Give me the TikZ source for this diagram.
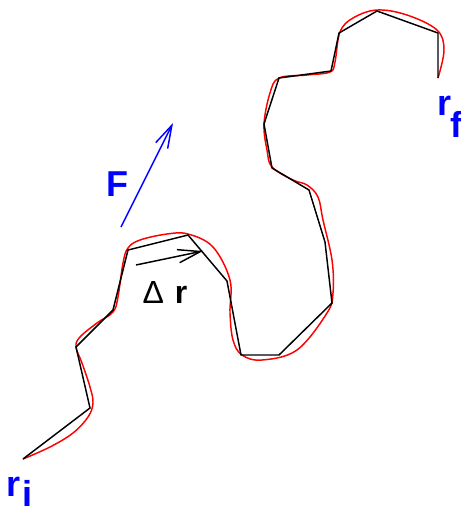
\documentclass[tikz,border=0pt]{standalone}
\usepackage{fontspec}
\setmainfont{Liberation Sans}
\usetikzlibrary{arrows.meta}

\tikzset{every picture/.style={line width=1.1pt}}
\tikzset{
  barb/.style={-{Straight Barb[length=17pt,width=10pt,line width=1.1pt]}},
  lbl/.style={anchor=base west,inner sep=0pt,font=\bfseries\fontsize{27}{27}\selectfont}
}

\begin{document}
\begin{tikzpicture}[x=0.75pt,y=0.75pt,yscale=-1,xscale=1]
      \useasboundingbox (0,0) rectangle (461,512);

      % path vertices
      \coordinate (v0) at (23,459);
      \coordinate (v1) at (90,408);
      \coordinate (v2) at (76,347);
      \coordinate (v3) at (113,310);
      \coordinate (v4) at (128,250);
      \coordinate (v5) at (188,235);
      \coordinate (v6) at (227,281);
      \coordinate (v7) at (241,355);
      \coordinate (v8) at (279,355);
      \coordinate (v9) at (332,303);
      \coordinate (v10) at (325,242);
      \coordinate (v11) at (309,190);
      \coordinate (v12) at (272,168);
      \coordinate (v13) at (264,124);
      \coordinate (v14) at (279,78);
      \coordinate (v15) at (331,71);
      \coordinate (v16) at (339,33);
      \coordinate (v17) at (377,11);
      \coordinate (v18) at (438,33);
      \coordinate (v19) at (438,78);

      %Curve Lines (smooth path)
      \draw [color=red, line width=1.1pt] plot [smooth, tension=0.6] coordinates {
        (23,459) (50,447) (73,433) (88,417) (93,403) (90,387) (82,363) (76,347)
        (80,337) (97,323) (113,312) (118,297) (123,263) (128,248) (140,240)
        (167,234) (188,234) (213,247) (230,280) (230,313) (233,340) (242,355)
        (262,360) (297,350) (327,313) (333,293) (332,260) (323,220) (318,197)
        (307,185) (293,180) (272,167) (267,150) (264,124) (270,93) (279,78)
        (307,75) (330,72) (335,62) (340,32) (353,18) (377,10) (407,15)
        (437,30) (444,50) (438,78)};

      %Straight Lines (polygonal path)
      \draw (v0) -- (v1) -- (v2) -- (v3) -- (v4) -- (v5) -- (v6) -- (v7) -- (v8) -- (v9)
        -- (v10) -- (v11) -- (v12) -- (v13) -- (v14) -- (v15) -- (v16) -- (v17) -- (v18) -- (v19);

      %Straight Lines (displacement)
      \coordinate (drtail) at (136,265);
      \coordinate (drhead) at (203,251);
      \draw [barb] (drtail) -- (drhead);

      %Straight Lines (force)
      \coordinate (Ftail) at (121,227);
      \coordinate (Fhead) at (173,123);
      \draw [barb, color=blue] (Ftail) -- (Fhead);

      % Text Node
      \node [lbl, text=blue] (Flabel) at (105.5,196) {F};
      % Text Node
      \node [lbl, text=black, font=\fontsize{24}{24}\selectfont] (drlabel) at (142,303) {Δ\hspace{8pt}\textbf{r}};
      % Text Node
      \node [lbl, text=blue] (rilabel) at (6,496) {r};
      \node [lbl, text=blue] (risub) at (22,506) {i};
      % Text Node
      \node [lbl, text=blue] (rflabel) at (437,115) {r};
      \node [lbl, text=blue] (rfsub) at (450,137) {f};
    \end{tikzpicture}
\end{document}
